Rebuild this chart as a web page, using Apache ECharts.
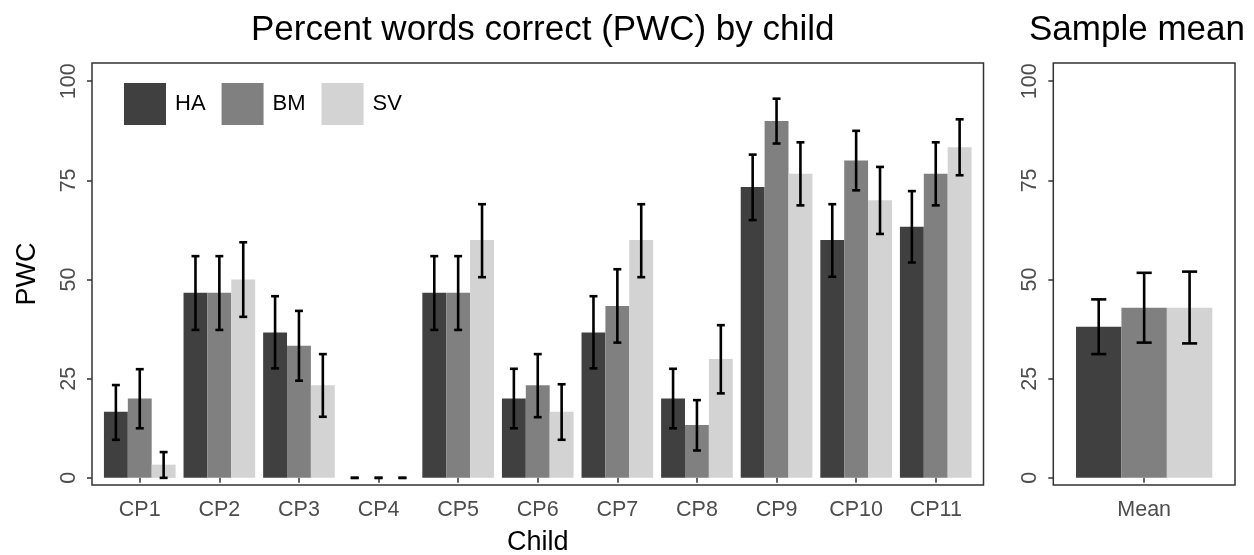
<!DOCTYPE html>
<html>
<head>
<meta charset="utf-8">
<script src="https://cdn.jsdelivr.net/npm/echarts@6/dist/echarts.min.js"></script>
<style>
html,body{margin:0;padding:0;background:#fff;}
#chart{width:1254px;height:555px;}
</style>
</head>
<body>
<div id="chart"></div>
<script>
// ---- Data ----
const categories = ['CP1','CP2','CP3','CP4','CP5','CP6','CP7','CP8','CP9','CP10','CP11'];
const seriesNames = ['HA','BM','SV'];
const ha   = [16.67, 46.67, 36.67, 0, 46.67, 20.00, 36.67, 20.00, 73.33, 60.00, 63.33];
const bm   = [20.00, 46.67, 33.33, 0, 46.67, 23.33, 43.33, 13.33, 90.00, 80.00, 76.67];
const sv   = [ 3.33, 50.00, 23.33, 0, 60.00, 16.67, 60.00, 30.00, 76.67, 70.00, 83.33];
const haLo = [ 9.6, 37.3, 27.6, 0, 37.3, 12.5, 27.6, 12.5, 65.0, 50.7, 54.3];
const haHi = [23.4, 55.9, 45.8, 0, 55.9, 27.5, 45.8, 27.5, 81.5, 69.0, 72.3];
const bmLo = [12.5, 37.3, 24.5, 0, 37.3, 15.3, 34.1,  6.9, 84.3, 72.5, 68.7];
const bmHi = [27.4, 55.9, 42.1, 0, 55.9, 31.2, 52.6, 19.6, 95.6, 87.5, 84.6];
const svLo = [ 0.0, 40.6, 15.4, 0, 50.6,  9.6, 50.6, 21.3, 68.7, 61.5, 76.3];
const svHi = [ 6.5, 59.4, 31.2, 0, 69.0, 23.6, 69.0, 38.5, 84.6, 78.4, 90.4];

const meanCategories = ['Mean'];
const meanValues = [38.1, 42.9, 42.9];   // HA, BM, SV
const meanLo     = [31.2, 34.1, 33.9];
const meanHi     = [45.0, 51.7, 52.0];

const yTicks = [0, 25, 50, 75, 100];
const colors = ['#404040', '#808080', '#d3d3d3'];

// ---- Build ----
const FONT = 'Liberation Sans, Arial, Helvetica, sans-serif';
const chart = echarts.init(document.getElementById('chart'), null, {renderer:'canvas'});

const values = [ha, bm, sv];
const los = [haLo, bmLo, svLo];
const his = [haHi, bmHi, svHi];

const errData = [];
for (let s = 0; s < 3; s++) {
  for (let c = 0; c < categories.length; c++) {
    errData.push([c, s, los[s][c], his[s][c]]);
  }
}
const meanErrData = [];
for (let s = 0; s < 3; s++) meanErrData.push([0, s, meanLo[s], meanHi[s]]);

function renderErr(params, api) {
  const cat = api.value(0), s = api.value(1), lo = api.value(2), hi = api.value(3);
  const band = api.size([1, 0])[0];
  const cx = api.coord([cat, 0])[0] + (s - 1) * 0.3 * band;
  const yLo = api.coord([cat, lo])[1];
  const yHi = api.coord([cat, hi])[1];
  const hw = 0.05 * band;
  const st = {stroke: '#000', lineWidth: 2.6};
  return {
    type: 'group',
    children: [
      {type: 'line', shape: {x1: cx, y1: yLo, x2: cx, y2: yHi}, style: st},
      {type: 'line', shape: {x1: cx - hw, y1: yHi, x2: cx + hw, y2: yHi}, style: st},
      {type: 'line', shape: {x1: cx - hw, y1: yLo, x2: cx + hw, y2: yLo}, style: st}
    ]
  };
}

const YMIN = -1.8, YMAX = 104.6;
const TOP = 63, H = 422;
const L_FRAME = 92, L_FRAME_W = 891.5, L_UNIT = L_FRAME_W / 11.2;
const R_FRAME = 1053.3, R_FRAME_W = 181.7, R_UNIT = R_FRAME_W / 1.2;

const labelColor = '#4d4d4d';
const tickStyle = {show: true, length: 5, lineStyle: {color: '#333', width: 1.5}};

function valueAxis(gridIndex, offset) {
  return {
    type: 'value', gridIndex, min: YMIN, max: YMAX,
    offset,
    axisLine: {show: false},
    splitLine: {show: false},
    axisLabel: {
      rotate: 90, margin: 12, color: labelColor, fontSize: 21.5, fontFamily: FONT,
      customValues: yTicks,
      formatter: v => String(v)
    },
    axisTick: Object.assign({customValues: yTicks}, tickStyle)
  };
}

const gridBase = {top: TOP, height: H, outerBoundsMode: 'none', containLabel: false};

const option = {
  animation: false,
  backgroundColor: '#fff',
  title: [
    {text: 'Percent words correct (PWC) by child', left: L_FRAME + L_FRAME_W / 2, top: 8, textAlign: 'center',
     textStyle: {fontSize: 35, fontWeight: 'normal', color: '#000', fontFamily: FONT}},
    {text: 'Sample mean', left: 1132, top: 8, textAlign: 'center',
     textStyle: {fontSize: 35, fontWeight: 'normal', color: '#000', fontFamily: FONT}}
  ],
  legend: {
    data: seriesNames,
    left: 119, top: 78,
    itemWidth: 42, itemHeight: 42, itemGap: 16,
    icon: 'rect',
    textStyle: {fontSize: 22, color: '#000', fontFamily: FONT, padding: [0, 0, 0, 4]}
  },
  grid: [
    Object.assign({left: L_FRAME, width: L_FRAME_W, show: true, borderColor: '#333', borderWidth: 1.5, backgroundColor: 'transparent'}, gridBase),
    Object.assign({left: L_FRAME + 0.1 * L_UNIT, width: 11 * L_UNIT}, gridBase),
    Object.assign({left: R_FRAME, width: R_FRAME_W, show: true, borderColor: '#333', borderWidth: 1.5, backgroundColor: 'transparent'}, gridBase),
    Object.assign({left: R_FRAME + 0.1 * R_UNIT, width: R_UNIT}, gridBase)
  ],
  xAxis: [
    {type: 'value', gridIndex: 0, show: false, min: 0, max: 1},
    {type: 'category', gridIndex: 1, data: categories,
     axisLine: {show: false},
     axisTick: Object.assign({alignWithLabel: true}, tickStyle),
     axisLabel: {margin: 14, color: labelColor, fontSize: 21.5, fontFamily: FONT},
     name: 'Child', nameLocation: 'middle', nameGap: 44,
     nameTextStyle: {fontSize: 27, color: '#000', fontFamily: FONT}},
    {type: 'value', gridIndex: 2, show: false, min: 0, max: 1},
    {type: 'category', gridIndex: 3, data: meanCategories,
     axisLine: {show: false},
     axisTick: Object.assign({alignWithLabel: true}, tickStyle),
     axisLabel: {margin: 14, color: labelColor, fontSize: 21.5, fontFamily: FONT}}
  ],
  yAxis: [
    {type: 'value', gridIndex: 0, show: false, min: 0, max: 1},
    Object.assign(valueAxis(1, 0.1 * L_UNIT), {
      name: 'PWC', nameLocation: 'middle', nameGap: 51,
      nameTextStyle: {fontSize: 27, color: '#000', fontFamily: FONT}
    }),
    {type: 'value', gridIndex: 2, show: false, min: 0, max: 1},
    valueAxis(3, 0.1 * R_UNIT)
  ],
  series: [
    ...seriesNames.map((n, i) => ({
      name: n, type: 'bar', xAxisIndex: 1, yAxisIndex: 1,
      data: values[i], barCategoryGap: '10%', barGap: '0%',
      itemStyle: {color: colors[i]}
    })),
    ...seriesNames.map((n, i) => ({
      name: n, type: 'bar', xAxisIndex: 3, yAxisIndex: 3,
      data: [meanValues[i]], barCategoryGap: '10%', barGap: '0%',
      itemStyle: {color: colors[i]}
    })),
    {type: 'custom', xAxisIndex: 1, yAxisIndex: 1, data: errData, renderItem: renderErr, clip: false, z: 5},
    {type: 'custom', xAxisIndex: 3, yAxisIndex: 3, data: meanErrData, renderItem: renderErr, clip: false, z: 5}
  ]
};
chart.setOption(option);
</script>
</body>
</html>
